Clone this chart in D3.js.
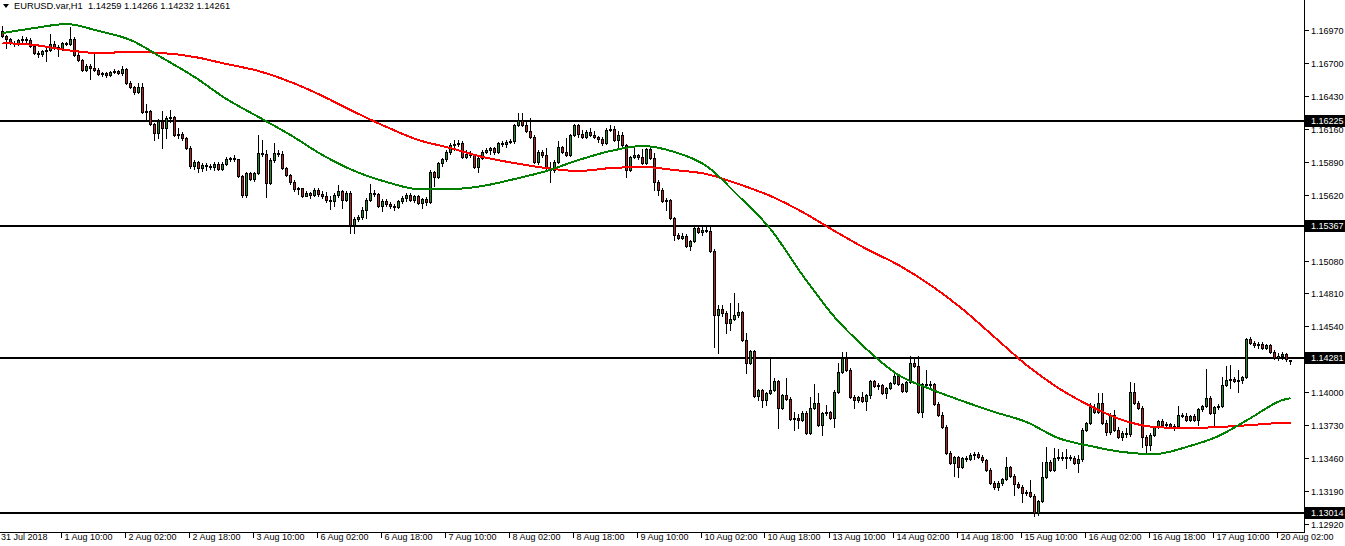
<!DOCTYPE html>
<html><head><meta charset="utf-8">
<script src="https://cdn.jsdelivr.net/npm/d3@7/dist/d3.min.js"></script>
<style>html,body{margin:0;padding:0;background:#fff;overflow:hidden} text{white-space:pre}</style>
</head><body><svg id="c" width="1345" height="546"></svg>
<script>
const symbolTitle = "EURUSD.var,H1";
const lastQuote = [1.14259, 1.14266, 1.14232, 1.14261];

const closeP = [1.16921,1.16896,1.16863,1.16855,1.16888,1.16896,1.16888,1.16839,1.16781,1.16773,
1.16798,1.16806,1.16855,1.16831,1.16814,1.16863,1.16855,1.16896,1.16765,1.16724,
1.16642,1.16675,1.16658,1.16642,1.16609,1.16617,1.16601,1.16626,1.16634,1.16617,
1.16650,1.16535,1.16503,1.16462,1.16503,1.16298,1.16306,1.16199,1.16125,1.16224,
1.16166,1.16248,1.16257,1.16109,1.16117,1.16084,1.16002,1.15855,1.15888,1.15838,
1.15863,1.15855,1.15847,1.15871,1.15830,1.15871,1.15912,1.15920,1.15912,1.15773,
1.15617,1.15798,1.15748,1.15798,1.15961,1.15953,1.15716,1.15904,1.15961,1.15953,
1.15838,1.15781,1.15724,1.15666,1.15675,1.15609,1.15634,1.15617,1.15658,1.15625,
1.15609,1.15576,1.15568,1.15617,1.15650,1.15576,1.15634,1.15371,1.15420,1.15437,
1.15494,1.15576,1.15634,1.15625,1.15527,1.15568,1.15543,1.15527,1.15519,1.15568,
1.15592,1.15617,1.15576,1.15609,1.15551,1.15584,1.15560,1.15806,1.15765,1.15879,
1.15912,1.15970,1.16027,1.16035,1.16043,1.15929,1.15953,1.15945,1.15847,1.15920,
1.15970,1.15986,1.16002,1.15970,1.16043,1.16035,1.16052,1.16060,1.16191,1.16232,
1.16191,1.16142,1.16093,1.15888,1.15970,1.15945,1.15838,1.15822,1.15888,1.16011,
1.15970,1.15945,1.16109,1.16191,1.16117,1.16093,1.16134,1.16109,1.16093,1.16076,
1.16043,1.16150,1.16158,1.16068,1.16109,1.16027,1.15822,1.15929,1.15945,1.15929,
1.15879,1.15994,1.15920,1.15724,1.15658,1.15568,1.15576,1.15428,1.15289,1.15264,
1.15281,1.15199,1.15240,1.15346,1.15314,1.15330,1.15322,1.15158,1.14633,1.14682,
1.14649,1.14567,1.14600,1.14633,1.14658,1.14428,1.14239,1.14338,1.13969,1.14018,
1.13936,1.13993,1.14018,1.14092,1.13870,1.13977,1.13944,1.13780,1.13788,1.13772,
1.13830,1.13665,1.13870,1.13911,1.13731,1.13830,1.13838,1.13788,1.14002,1.14166,
1.14280,1.14182,1.13961,1.13936,1.13961,1.13928,1.13977,1.14092,1.14051,1.14059,
1.13993,1.14034,1.14075,1.14133,1.14067,1.14010,1.14084,1.14239,1.14215,1.13838,
1.14067,1.14059,1.14067,1.13903,1.13813,1.13715,1.13501,1.13419,1.13469,1.13387,
1.13460,1.13452,1.13485,1.13493,1.13469,1.13444,1.13362,1.13255,1.13223,1.13255,
1.13288,1.13387,1.13313,1.13247,1.13223,1.13174,1.13182,1.13149,1.13009,1.13108,
1.13305,1.13428,1.13362,1.13460,1.13469,1.13460,1.13469,1.13460,1.13419,1.13452,
1.13690,1.13748,1.13879,1.13838,1.13911,1.13748,1.13674,1.13813,1.13690,1.13633,
1.13665,1.13657,1.14002,1.13911,1.13870,1.13633,1.13567,1.13649,1.13715,1.13764,
1.13731,1.13739,1.13715,1.13723,1.13813,1.13805,1.13772,1.13805,1.13772,1.13862,
1.13887,1.13952,1.13829,1.13879,1.13887,1.14059,1.14100,1.14108,1.14092,1.14100,
1.14125,1.14436,1.14403,1.14387,1.14395,1.14362,1.14387,1.14330,1.14280,1.14297,
1.14313,1.14272,1.14261];

const openP = [1.16962,1.16921,1.16896,1.16863,1.16855,1.16888,1.16896,1.16888,1.16839,1.16781,
1.16773,1.16798,1.16806,1.16855,1.16831,1.16814,1.16863,1.16855,1.16896,1.16765,
1.16724,1.16642,1.16675,1.16658,1.16642,1.16609,1.16617,1.16601,1.16626,1.16634,
1.16617,1.16650,1.16535,1.16503,1.16462,1.16503,1.16298,1.16306,1.16199,1.16125,
1.16224,1.16166,1.16248,1.16257,1.16109,1.16117,1.16084,1.16002,1.15855,1.15888,
1.15838,1.15863,1.15855,1.15847,1.15871,1.15830,1.15871,1.15912,1.15920,1.15912,
1.15773,1.15617,1.15798,1.15748,1.15798,1.15961,1.15953,1.15716,1.15904,1.15961,
1.15953,1.15838,1.15781,1.15724,1.15666,1.15675,1.15609,1.15634,1.15617,1.15658,
1.15625,1.15609,1.15576,1.15568,1.15617,1.15650,1.15576,1.15634,1.15371,1.15420,
1.15437,1.15494,1.15576,1.15634,1.15625,1.15527,1.15568,1.15543,1.15527,1.15519,
1.15568,1.15592,1.15617,1.15576,1.15609,1.15551,1.15584,1.15560,1.15806,1.15765,
1.15879,1.15912,1.15970,1.16027,1.16035,1.16043,1.15929,1.15953,1.15945,1.15847,
1.15920,1.15970,1.15986,1.16002,1.15970,1.16043,1.16035,1.16052,1.16060,1.16191,
1.16232,1.16191,1.16142,1.16093,1.15888,1.15970,1.15945,1.15838,1.15822,1.15888,
1.16011,1.15970,1.15945,1.16109,1.16191,1.16117,1.16093,1.16134,1.16109,1.16093,
1.16076,1.16043,1.16150,1.16158,1.16068,1.16109,1.16027,1.15822,1.15929,1.15945,
1.15929,1.15879,1.15994,1.15920,1.15724,1.15658,1.15568,1.15576,1.15428,1.15289,
1.15264,1.15281,1.15199,1.15240,1.15346,1.15314,1.15330,1.15322,1.15158,1.14633,
1.14682,1.14649,1.14567,1.14600,1.14633,1.14658,1.14428,1.14239,1.14338,1.13969,
1.14018,1.13936,1.13993,1.14018,1.14092,1.13870,1.13977,1.13944,1.13780,1.13788,
1.13772,1.13830,1.13665,1.13870,1.13911,1.13731,1.13830,1.13838,1.13788,1.14002,
1.14166,1.14280,1.14182,1.13961,1.13936,1.13961,1.13928,1.13977,1.14092,1.14051,
1.14059,1.13993,1.14034,1.14075,1.14133,1.14067,1.14010,1.14084,1.14239,1.14215,
1.13838,1.14067,1.14059,1.14067,1.13903,1.13813,1.13715,1.13501,1.13419,1.13469,
1.13387,1.13460,1.13452,1.13485,1.13493,1.13469,1.13444,1.13362,1.13255,1.13223,
1.13255,1.13288,1.13387,1.13313,1.13247,1.13223,1.13174,1.13182,1.13149,1.13009,
1.13108,1.13305,1.13428,1.13362,1.13460,1.13469,1.13460,1.13469,1.13460,1.13419,
1.13452,1.13690,1.13748,1.13879,1.13838,1.13911,1.13748,1.13674,1.13813,1.13690,
1.13633,1.13665,1.13657,1.14002,1.13911,1.13870,1.13633,1.13567,1.13649,1.13715,
1.13764,1.13731,1.13739,1.13715,1.13723,1.13813,1.13805,1.13772,1.13805,1.13772,
1.13862,1.13887,1.13952,1.13829,1.13879,1.13887,1.14059,1.14100,1.14108,1.14092,
1.14100,1.14125,1.14436,1.14403,1.14387,1.14395,1.14362,1.14387,1.14330,1.14280,
1.14297,1.14313,1.14259];

const highP = [1.17003,1.16929,1.16904,1.16880,1.16896,1.16921,1.16913,1.16904,1.16847,1.16798,
1.16806,1.16822,1.16937,1.16880,1.16847,1.16872,1.16872,1.16995,1.16913,1.16781,
1.16732,1.16691,1.16691,1.16773,1.16658,1.16626,1.16626,1.16634,1.16650,1.16642,
1.16675,1.16658,1.16552,1.16511,1.16535,1.16535,1.16363,1.16314,1.16207,1.16240,
1.16306,1.16265,1.16314,1.16265,1.16166,1.16134,1.16093,1.16019,1.15904,1.15896,
1.15879,1.15879,1.15871,1.15888,1.15888,1.15888,1.15929,1.15929,1.15945,1.15912,
1.15781,1.15806,1.15806,1.15806,1.16109,1.16068,1.15986,1.15920,1.16043,1.15986,
1.15978,1.15847,1.15789,1.15740,1.15683,1.15675,1.15650,1.15642,1.15675,1.15675,
1.15650,1.15642,1.15609,1.15634,1.15699,1.15658,1.15650,1.15650,1.15437,1.15453,
1.15519,1.15592,1.15707,1.15658,1.15634,1.15584,1.15584,1.15560,1.15543,1.15576,
1.15609,1.15634,1.15634,1.15617,1.15617,1.15592,1.15601,1.15822,1.15814,1.15888,
1.15920,1.15986,1.16043,1.16068,1.16068,1.16060,1.15986,1.15978,1.15945,1.15929,
1.15986,1.16002,1.16011,1.16011,1.16052,1.16060,1.16068,1.16076,1.16199,1.16289,
1.16289,1.16232,1.16248,1.16109,1.15986,1.15986,1.16002,1.15888,1.15904,1.16060,
1.16019,1.16084,1.16117,1.16199,1.16199,1.16150,1.16150,1.16166,1.16142,1.16101,
1.16093,1.16166,1.16191,1.16183,1.16142,1.16134,1.16035,1.15937,1.16011,1.15953,
1.15994,1.16002,1.16011,1.15961,1.15740,1.15675,1.15592,1.15584,1.15437,1.15305,
1.15305,1.15297,1.15248,1.15355,1.15363,1.15355,1.15363,1.15355,1.15174,1.14715,
1.14715,1.14666,1.14731,1.14813,1.14731,1.14666,1.14485,1.14346,1.14346,1.14026,
1.14026,1.14002,1.14280,1.14116,1.14100,1.13985,1.14116,1.13961,1.13838,1.13821,
1.13846,1.13846,1.13961,1.14067,1.13993,1.13838,1.13895,1.13846,1.14018,1.14239,
1.14330,1.14330,1.14198,1.13977,1.13969,1.14002,1.13985,1.14100,1.14100,1.14075,
1.14067,1.14043,1.14084,1.14166,1.14141,1.14075,1.14092,1.14297,1.14289,1.14297,
1.14075,1.14182,1.14092,1.14075,1.13920,1.13838,1.13731,1.13518,1.13477,1.13477,
1.13469,1.13477,1.13501,1.13510,1.13510,1.13485,1.13452,1.13378,1.13272,1.13272,
1.13296,1.13469,1.13395,1.13329,1.13264,1.13239,1.13198,1.13280,1.13165,1.13116,
1.13428,1.13551,1.13444,1.13543,1.13534,1.13510,1.13534,1.13485,1.13477,1.13485,
1.13706,1.13756,1.13911,1.13903,1.13993,1.13993,1.13772,1.13829,1.13854,1.13715,
1.13682,1.13706,1.14084,1.14075,1.13928,1.13887,1.13649,1.13665,1.13723,1.13772,
1.13780,1.13756,1.13748,1.13739,1.13887,1.13829,1.13829,1.13813,1.13821,1.13870,
1.13895,1.14190,1.13969,1.13887,1.13903,1.14125,1.14215,1.14223,1.14125,1.14182,
1.14133,1.14444,1.14452,1.14420,1.14411,1.14411,1.14395,1.14395,1.14346,1.14321,
1.14330,1.14321,1.14266];

const lowP = [1.16913,1.16822,1.16855,1.16839,1.16847,1.16872,1.16872,1.16831,1.16773,1.16749,
1.16757,1.16716,1.16798,1.16814,1.16757,1.16806,1.16847,1.16847,1.16757,1.16716,
1.16634,1.16634,1.16568,1.16634,1.16601,1.16593,1.16585,1.16593,1.16617,1.16609,
1.16601,1.16527,1.16494,1.16445,1.16453,1.16289,1.16232,1.16191,1.16068,1.16084,
1.16002,1.16084,1.16216,1.16101,1.16084,1.16068,1.15994,1.15838,1.15830,1.15806,
1.15814,1.15822,1.15830,1.15822,1.15822,1.15822,1.15863,1.15896,1.15896,1.15765,
1.15601,1.15601,1.15740,1.15732,1.15789,1.15937,1.15601,1.15707,1.15888,1.15937,
1.15830,1.15773,1.15707,1.15650,1.15625,1.15601,1.15609,1.15592,1.15609,1.15609,
1.15592,1.15560,1.15502,1.15527,1.15601,1.15511,1.15568,1.15305,1.15305,1.15404,
1.15420,1.15429,1.15568,1.15609,1.15519,1.15486,1.15527,1.15511,1.15494,1.15511,
1.15551,1.15568,1.15568,1.15560,1.15543,1.15511,1.15535,1.15551,1.15691,1.15757,
1.15855,1.15896,1.15953,1.15986,1.16019,1.15920,1.15920,1.15929,1.15838,1.15806,
1.15912,1.15961,1.15953,1.15953,1.15961,1.16019,1.16011,1.16043,1.16043,1.16183,
1.16183,1.16134,1.16084,1.15879,1.15871,1.15929,1.15830,1.15724,1.15806,1.15879,
1.15961,1.15937,1.15937,1.16101,1.16093,1.16084,1.16084,1.16101,1.16084,1.16052,
1.16027,1.16035,1.16142,1.16060,1.16011,1.16011,1.15765,1.15814,1.15920,1.15912,
1.15871,1.15871,1.15912,1.15658,1.15617,1.15560,1.15494,1.15420,1.15248,1.15256,
1.15256,1.15191,1.15166,1.15232,1.15305,1.15289,1.15314,1.15150,1.14371,1.14321,
1.14625,1.14485,1.14510,1.14592,1.14617,1.14420,1.14157,1.14231,1.13961,1.13936,
1.13879,1.13895,1.13985,1.14010,1.13706,1.13862,1.13936,1.13772,1.13690,1.13706,
1.13764,1.13657,1.13657,1.13862,1.13723,1.13649,1.13813,1.13780,1.13715,1.13993,
1.14157,1.14174,1.13952,1.13870,1.13920,1.13920,1.13854,1.13952,1.14043,1.14026,
1.13985,1.13952,1.14026,1.14067,1.14059,1.14002,1.14002,1.14075,1.14207,1.13830,
1.13797,1.14043,1.14043,1.13895,1.13805,1.13706,1.13493,1.13411,1.13313,1.13305,
1.13378,1.13436,1.13444,1.13452,1.13460,1.13428,1.13354,1.13247,1.13206,1.13198,
1.13239,1.13280,1.13305,1.13157,1.13214,1.13100,1.13157,1.13141,1.12985,1.12993,
1.13100,1.13296,1.13354,1.13354,1.13444,1.13444,1.13378,1.13444,1.13411,1.13346,
1.13436,1.13682,1.13739,1.13830,1.13830,1.13739,1.13649,1.13657,1.13682,1.13624,
1.13608,1.13633,1.13641,1.13903,1.13862,1.13551,1.13510,1.13526,1.13641,1.13706,
1.13723,1.13706,1.13706,1.13690,1.13706,1.13797,1.13764,1.13764,1.13764,1.13731,
1.13846,1.13879,1.13821,1.13731,1.13862,1.13879,1.14051,1.14034,1.14084,1.14002,
1.14075,1.14116,1.14395,1.14371,1.14362,1.14354,1.14354,1.14321,1.14272,1.14264,
1.14272,1.14256,1.14232];

const maBars = [0,8,16,24,32,40,48,56,64,72,80,88,96,104,112,120,128,136,144,152,160,168,176,184,192,200,208,216,224,232,240,248,256,264,272,280,288,296,304,312,320,322];
const maFast = [1.16945,1.16986,1.17019,1.16962,1.16888,1.16740,1.16585,1.16404,1.16257,1.16109,
1.15945,1.15814,1.15724,1.15666,1.15666,1.15691,1.15748,1.15814,1.15904,1.15978,
1.16019,1.15970,1.15855,1.15609,1.15338,1.14961,1.14617,1.14354,1.14141,1.14026,
1.13928,1.13838,1.13756,1.13624,1.13559,1.13510,1.13493,1.13551,1.13641,1.13788,
1.13936,1.13952];
const maSlow = [1.16863,1.16847,1.16806,1.16781,1.16790,1.16781,1.16749,1.16691,1.16634,1.16544,
1.16429,1.16298,1.16175,1.16068,1.16002,1.15929,1.15879,1.15838,1.15814,1.15838,
1.15847,1.15822,1.15789,1.15707,1.15609,1.15478,1.15322,1.15174,1.15043,1.14879,
1.14682,1.14452,1.14223,1.14034,1.13887,1.13772,1.13715,1.13706,1.13715,1.13731,
1.13748,1.13748];

const levels = [1.16225, 1.15367, 1.14281, 1.13014];
const priceTicks = [1.16970,1.16700,1.16430,1.16160,1.15890,1.15620,1.15080,1.14810,1.14540,1.14000,1.13730,1.13460,1.13190,1.12920];
const timeLabels = ["31 Jul 2018","1 Aug 10:00","2 Aug 02:00","2 Aug 18:00","3 Aug 10:00","6 Aug 02:00","6 Aug 18:00","7 Aug 10:00","8 Aug 02:00","8 Aug 18:00","9 Aug 10:00","10 Aug 02:00","10 Aug 18:00","13 Aug 10:00","14 Aug 02:00","14 Aug 18:00","15 Aug 10:00","16 Aug 02:00","16 Aug 18:00","17 Aug 10:00","20 Aug 02:00"];
const timeLabelBars = [-1,15,31,47,63,79,95,111,127,143,159,175,191,207,223,239,255,271,287,303,319];

const W = 1345, H = 546, plotR = 1304, plotB = 532;
const FONT = "'Liberation Sans', Arial, sans-serif";
const svg = d3.select("#c");
svg.append("rect").attr("width", W).attr("height", H).attr("fill", "#fff");

const x = d3.scaleLinear().domain([0, 322]).range([2.5, 1290.5]);
const y = d3.scaleLinear().domain([1.12920, 1.16970]).range([524, 30]);

svg.append("clipPath").attr("id", "pc").append("rect")
  .attr("x", 0).attr("y", 0).attr("width", plotR).attr("height", plotB);
const plot = svg.append("g").attr("clip-path", "url(#pc)");

// horizontal levels
plot.selectAll("line.lvl").data(levels).join("line")
  .attr("x1", 0).attr("x2", plotR)
  .attr("y1", d => Math.round(y(d))).attr("y2", d => Math.round(y(d)))
  .attr("stroke", "#000").attr("stroke-width", 2).attr("shape-rendering", "crispEdges");

// candles
const bars = d3.range(closeP.length).map(i => ({i, o: openP[i], h: highP[i], l: lowP[i], c: closeP[i]}));
const cg = plot.append("g").attr("shape-rendering", "crispEdges");
bars.forEach(b => {
  const cx = x(b.i);
  const yh = Math.round(y(b.h)), yl = Math.round(y(b.l));
  cg.append("rect").attr("x", cx - 0.5).attr("y", yh).attr("width", 1).attr("height", Math.max(1, yl - yh + 1)).attr("fill", "#000");
  const top = Math.round(y(Math.max(b.o, b.c))), bot = Math.round(y(Math.min(b.o, b.c)));
  cg.append("rect").attr("x", cx - 1.5).attr("y", top).attr("width", 3).attr("height", bot - top + 1).attr("fill", "#000");
  if (bot - top - 1 > 0) {
    cg.append("rect").attr("x", cx - 0.5).attr("y", top + 1).attr("width", 1).attr("height", bot - top - 1)
      .attr("fill", b.c >= b.o ? "#1f8a1f" : "#b22222");
  }
});

// moving averages
const line = d3.line().x(d => x(d[0])).y(d => y(d[1])).curve(d3.curveMonotoneX);
plot.append("path").datum(maBars.map((b, k) => [b, maSlow[k]]))
  .attr("d", line).attr("fill", "none").attr("stroke", "#ff0000").attr("stroke-width", 2)
  .attr("shape-rendering", "crispEdges");
plot.append("path").datum(maBars.map((b, k) => [b, maFast[k]]))
  .attr("d", line).attr("fill", "none").attr("stroke", "#008000").attr("stroke-width", 2)
  .attr("shape-rendering", "crispEdges");

// frame
svg.append("line").attr("x1", plotR + 0.5).attr("x2", plotR + 0.5).attr("y1", 0).attr("y2", plotB + 1).attr("stroke", "#000").attr("stroke-width", 1);
svg.append("line").attr("x1", 0).attr("x2", plotR + 1).attr("y1", plotB + 0.5).attr("y2", plotB + 0.5).attr("stroke", "#000").attr("stroke-width", 1);

// price axis
const ya = svg.append("g");
priceTicks.forEach(p => {
  const yy = Math.round(y(p)) + 0.5;
  ya.append("line").attr("x1", plotR + 1).attr("x2", plotR + 5).attr("y1", yy).attr("y2", yy).attr("stroke", "#000");
  ya.append("text").attr("x", plotR + 7).attr("y", yy).attr("dy", "0.35em")
    .attr("font-family", FONT).attr("font-size", 9).attr("fill", "#000").text(p.toFixed(5));
});
levels.forEach(p => {
  const yy = Math.round(y(p));
  ya.append("rect").attr("x", plotR + 1).attr("y", yy - 6).attr("width", W - plotR - 1).attr("height", 12).attr("fill", "#000");
  ya.append("text").attr("x", plotR + 7).attr("y", yy).attr("dy", "0.35em")
    .attr("font-family", FONT).attr("font-size", 9).attr("fill", "#fff").text(p.toFixed(5));
});

// time axis
const xa = svg.append("g");
timeLabels.forEach((t, k) => {
  const tx = Math.round(x(timeLabelBars[k])) - 1.5;
  if (k > 0) xa.append("line").attr("x1", tx).attr("x2", tx).attr("y1", plotB + 1).attr("y2", plotB + 6).attr("stroke", "#000");
  xa.append("text").attr("x", k === 0 ? 1 : tx + 3).attr("y", plotB + 5).attr("dy", "0.35em")
    .attr("font-family", FONT).attr("font-size", 9).attr("fill", "#000").text(t);
});

// title
svg.append("path").attr("d", "M3,4 L9,4 L6,8 Z").attr("fill", "#000");
svg.append("text").attr("x", 14).attr("y", 6).attr("dy", "0.35em")
  .attr("font-family", FONT).attr("font-size", 9.3).attr("fill", "#000")
  .attr("xml:space", "preserve")
  .text(symbolTitle + "  " + lastQuote.map(v => v.toFixed(5)).join(" "));
</script></body></html>
